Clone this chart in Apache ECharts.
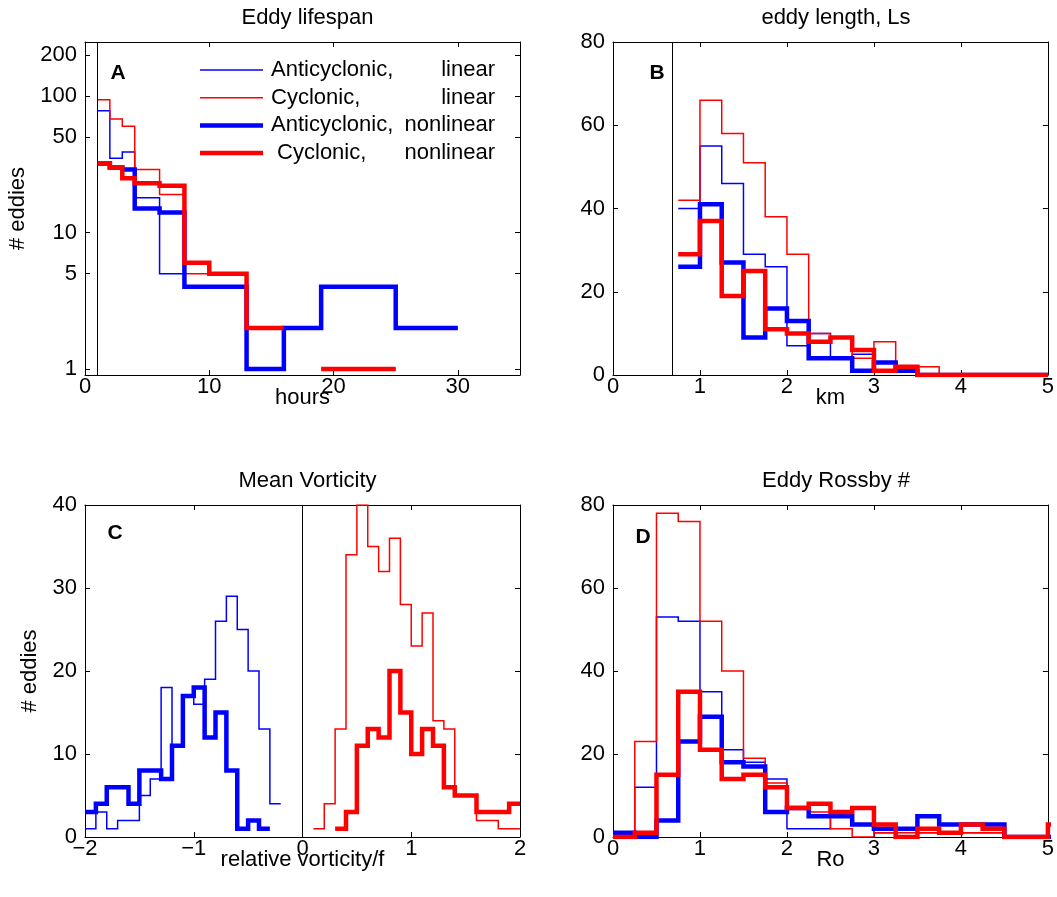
<!DOCTYPE html>
<html>
<head>
<meta charset="utf-8">
<script src="https://cdn.jsdelivr.net/npm/echarts@6/dist/echarts.min.js"></script>
<style>
  html, body { margin: 0; padding: 0; background: #fff; }
  #chart { width: 1057px; height: 897px; }
</style>
</head>
<body>
<div id="chart"></div>
<script>
// ---- Panel A: eddy lifespan (hours), counts on a log axis ----
const lifeEdges   = [1, 2, 3, 4, 6, 8, 10, 13, 16, 19, 25, 30];
const lifeAntiLin = [78, 35, 39, 18, 5, 4, 4, 1, 2, 4, 2];
const lifeCycLin  = [94, 68, 60, 29, 19, 5, 5, 2, 0, 1, 0];
const lifeAntiNon = [32, 30, 29, 15, 14, 4, 4, 1, 2, 4, 2];
const lifeCycNon  = [32, 30, 25, 23, 22, 6, 5, 2, 0, 1, 0];
const lifeXTicks  = [0, 10, 20, 30];
const lifeYTicks  = [1, 5, 10, 50, 100, 200];

// ---- Panel B: eddy length Ls (km) ----
const lenEdges   = [0.75, 1, 1.25, 1.5, 1.75, 2, 2.25, 2.5, 2.75, 3, 3.25, 3.5, 3.75, 4, 4.25, 4.5, 4.75, 5];
const lenAntiLin = [40, 55, 46, 29, 26, 7, 10, 4, 5, 3, 1, 0, 0, 0, 0, 0, 0];
const lenCycLin  = [42, 66, 58, 51, 38, 29, 10, 9, 4, 8, 2, 2, 0, 0, 0, 0, 0];
const lenAntiNon = [26, 41, 27, 9, 16, 13, 4, 4, 1, 3, 1, 0, 0, 0, 0, 0, 0];
const lenCycNon  = [29, 37, 19, 25, 11, 10, 8, 9, 6, 1, 2, 0, 0, 0, 0, 0, 0];

// ---- Panel C: mean relative vorticity / f ----
const vortNegEdges = [-2, -1.9, -1.8, -1.7, -1.6, -1.5, -1.4, -1.3, -1.2, -1.1, -1, -0.9, -0.8, -0.7, -0.6, -0.5, -0.4, -0.3, -0.2];
const vortAntiLin  = [1, 3, 1, 2, 2, 5, 7, 18, 11, 17, 16, 19, 26, 29, 25, 20, 13, 4];
const vortAntiNon  = [3, 4, 6, 6, 4, 8, 8, 7, 11, 17, 18, 12, 15, 8, 1, 2, 1];
const vortPosEdges = [0.1, 0.2, 0.3, 0.4, 0.5, 0.6, 0.7, 0.8, 0.9, 1, 1.1, 1.2, 1.3, 1.4, 1.5, 1.6, 1.7, 1.8, 1.9, 2];
const vortCycLin   = [1, 4, 13, 34, 40, 35, 32, 36, 28, 23, 27, 14, 13, 5, 5, 2, 2, 1, 1];
const vortCycNon   = [null, null, 1, 3, 11, 13, 12, 20, 15, 10, 13, 11, 6, 5, 5, 3, 3, 3, 4];

// ---- Panel D: eddy Rossby number ----
const roEdges   = [0, 0.25, 0.5, 0.75, 1, 1.25, 1.5, 1.75, 2, 2.25, 2.5, 2.75, 3, 3.25, 3.5, 3.75, 4, 4.25, 4.5, 4.75, 5, 5.25];
const roAntiLin = [1, 12, 53, 52, 35, 21, 18, 14, 2, 2, 5, 3, 1, 0, 1, 1, 1, 1, 0, 0, 0];
const roCycLin  = [0, 23, 78, 76, 52, 40, 19, 13, 7, 6, 2, 0, 1, 1, 1, 1, 1, 1, 0, 0, 0];
const roAntiNon = [1, 0, 4, 23, 29, 18, 17, 6, 7, 5, 5, 3, 2, 2, 5, 3, 3, 3, 0, 0, 0];
const roCycNon  = [0, 1, 15, 35, 21, 14, 15, 12, 7, 8, 6, 7, 3, 0, 2, 1, 3, 2, 0, 0, 3];

// vertical reference lines (x positions) for panels A, B, C
const refLines = [1, 0.68, 0];

const titles  = ['Eddy lifespan', 'eddy length, Ls', 'Mean Vorticity', 'Eddy Rossby #'];
const xNames  = ['hours', 'km', 'relative vorticity/f', 'Ro'];
const letters = ['A', 'B', 'C', 'D'];
const legendRows = [
  ['Anticyclonic,', 'linear'],
  ['Cyclonic,', 'linear'],
  ['Anticyclonic,', 'nonlinear'],
  [' Cyclonic,', 'nonlinear']
];

const FONT = '"Liberation Sans", Arial, Helvetica, sans-serif';
const BLUE = '#0000ff', RED = '#ff0000';
const THIN = 1.5, THICK = 4.5;
const STYLES = [
  { color: BLUE, width: THIN },
  { color: RED, width: THIN },
  { color: BLUE, width: THICK },
  { color: RED, width: THICK }
];

const grids = [
  { left: 85,  top: 42,  width: 435, height: 333 },
  { left: 613, top: 42,  width: 436, height: 333 },
  { left: 85,  top: 505, width: 435, height: 332 },
  { left: 613, top: 505, width: 436, height: 332 }
];

// Turn bin edges + counts into stair-step vertices (a count spans edge i..i+1).
function stairs(edges, counts, logScale) {
  const pts = [];
  counts.forEach(function (c, i) {
    if (c == null || (logScale && c <= 0)) {
      if (pts.length && pts[pts.length - 1][1] !== '-') pts.push([edges[i], '-']);
      return;
    }
    pts.push([edges[i], c], [edges[i + 1], c]);
  });
  return pts;
}

function fmtTick(v) {
  return v < 0 ? '\u2212' + Math.abs(v) : String(v);
}

const xCfg = [
  { min: 0, max: 35, ticks: lifeXTicks },
  { min: 0, max: 5, interval: 1 },
  { min: -2, max: 2, interval: 1 },
  { min: 0, max: 5, interval: 1 }
];
const yCfg = [
  { type: 'log', min: 0.904, max: 249, ticks: lifeYTicks, name: '# eddies', nameGap: 56 },
  { min: 0, max: 80, interval: 20 },
  { min: 0, max: 40, interval: 10, name: '# eddies', nameGap: 44 },
  { min: 0, max: 80, interval: 20 }
];

const textStyle = { fontSize: 22, color: '#000', fontFamily: FONT };

function makeAxis(dim, i, cfg, secondary) {
  const ax = {
    type: cfg.type || 'value',
    gridIndex: i,
    position: dim === 'x' ? (secondary ? 'top' : 'bottom') : (secondary ? 'right' : 'left'),
    min: cfg.min,
    max: cfg.max,
    axisLine: { show: true, onZero: false, lineStyle: { color: '#000', width: 1 } },
    axisTick: { show: true, inside: true, length: 5, lineStyle: { color: '#000', width: 1 } },
    axisLabel: Object.assign({ show: !secondary, margin: dim === 'x' ? 1 : 8, formatter: fmtTick }, textStyle),
    splitLine: { show: false },
    minorTick: { show: false },
    nameMoveOverlap: false
  };
  if (cfg.type === 'log') ax.logBase = 10;
  if (cfg.interval != null) ax.interval = cfg.interval;
  if (cfg.ticks) {
    ax.axisTick.customValues = cfg.ticks;
    ax.axisLabel.customValues = cfg.ticks;
  }
  if (!secondary) {
    if (dim === 'x') {
      ax.name = xNames[i];
      ax.nameLocation = 'middle';
      ax.nameGap = 12;
      ax.nameTextStyle = Object.assign({}, textStyle);
    } else if (cfg.name) {
      ax.name = cfg.name;
      ax.nameLocation = 'middle';
      ax.nameGap = cfg.nameGap;
      ax.nameTextStyle = Object.assign({}, textStyle);
    }
  }
  return ax;
}

const xAxes = [], yAxes = [];
for (let s = 0; s < 2; s++) {
  for (let i = 0; i < 4; i++) {
    xAxes.push(makeAxis('x', i, xCfg[i], s === 1));
    yAxes.push(makeAxis('y', i, yCfg[i], s === 1));
  }
}

const panelSeries = [
  [[lifeEdges, lifeAntiLin], [lifeEdges, lifeCycLin], [lifeEdges, lifeAntiNon], [lifeEdges, lifeCycNon]],
  [[lenEdges, lenAntiLin], [lenEdges, lenCycLin], [lenEdges, lenAntiNon], [lenEdges, lenCycNon]],
  [[vortNegEdges, vortAntiLin], [vortPosEdges, vortCycLin], [vortNegEdges, vortAntiNon], [vortPosEdges, vortCycNon]],
  [[roEdges, roAntiLin], [roEdges, roCycLin], [roEdges, roAntiNon], [roEdges, roCycNon]]
];
const seriesNames = legendRows.map(function (r) { return r[0].trim() + ' ' + r[1]; });

const series = [];
panelSeries.forEach(function (list, p) {
  list.forEach(function (pair, k) {
    const st = STYLES[k];
    const item = {
      type: 'line',
      name: seriesNames[k],
      xAxisIndex: p,
      yAxisIndex: p,
      data: stairs(pair[0], pair[1], p === 0),
      showSymbol: false,
      symbol: 'none',
      connectNulls: false,
      clip: true,
      silent: true,
      lineStyle: { color: st.color, width: st.width, cap: 'butt', join: 'miter' },
      itemStyle: { color: st.color },
      z: 2 + k
    };
    if (k === 0 && p < refLines.length) {
      item.markLine = {
        silent: true,
        symbol: 'none',
        label: { show: false },
        lineStyle: { color: '#000', width: 1, type: 'solid' },
        data: [{ xAxis: refLines[p] }]
      };
    }
    series.push(item);
  });
});

const titleOpts = titles.map(function (t, i) {
  const g = grids[i];
  return {
    text: t,
    left: g.left + g.width / 2,
    top: g.top - 40,
    textAlign: 'center',
    textStyle: { fontSize: 22, fontWeight: 'normal', color: '#000', fontFamily: FONT }
  };
});

const graphics = [];
const letterOffsets = [[33, 31], [44, 31], [30, 28], [30, 32]];
letters.forEach(function (l, i) {
  const g = grids[i];
  graphics.push({
    type: 'text',
    x: g.left + letterOffsets[i][0],
    y: g.top + letterOffsets[i][1],
    style: { text: l, fontSize: 21, fontWeight: 'bold', fontFamily: FONT, fill: '#000', align: 'center', verticalAlign: 'middle' }
  });
});
// legend inside panel A
legendRows.forEach(function (row, k) {
  const y = 70 + k * 27.7;
  const st = STYLES[k];
  graphics.push({
    type: 'line',
    shape: { x1: 200, y1: y, x2: 263, y2: y },
    style: { stroke: st.color, lineWidth: st.width }
  });
  graphics.push({
    type: 'text', x: 271, y: y,
    style: { text: row[0], fontSize: 22, fontFamily: FONT, fill: '#000', align: 'left', verticalAlign: 'middle' }
  });
  graphics.push({
    type: 'text', x: 495, y: y,
    style: { text: row[1], fontSize: 22, fontFamily: FONT, fill: '#000', align: 'right', verticalAlign: 'middle' }
  });
});

const chart = echarts.init(document.getElementById('chart'), null, { renderer: 'canvas' });
chart.setOption({
  animation: false,
  backgroundColor: '#fff',
  title: titleOpts,
  grid: grids.map(function (g) { return Object.assign({ containLabel: false, show: false }, g); }),
  xAxis: xAxes,
  yAxis: yAxes,
  series: series,
  graphic: graphics
});
</script>
</body>
</html>
